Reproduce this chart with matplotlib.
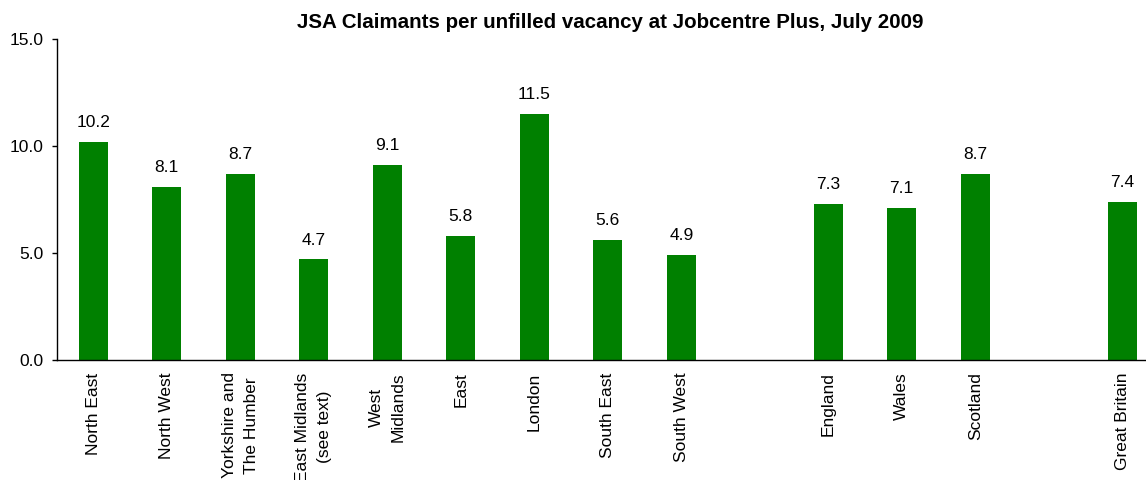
import matplotlib
matplotlib.use("Agg")
import matplotlib.pyplot as plt

categories = ["North East", "North West", "Yorkshire and\nThe Humber", "East Midlands\n(see text)",
              "West\nMidlands", "East", "London", "South East", "South West", "",
              "England", "Wales", "Scotland", "", "Great Britain"]
values = [10.2, 8.1, 8.7, 4.7, 9.1, 5.8, 11.5, 5.6, 4.9, None, 7.3, 7.1, 8.7, None, 7.4]
yticks = [0.0, 5.0, 10.0, 15.0]
title = "JSA Claimants per unfilled vacancy at Jobcentre Plus, July 2009"

plt.rcParams['font.family'] = ['Liberation Sans', 'DejaVu Sans']

fig = plt.figure(figsize=(11.46, 4.8), dpi=100)
ax = fig.add_axes([56.5 / 1146, 120 / 480, 1102.5 / 1146, 321 / 480])

xs = [i for i, v in enumerate(values) if v is not None]
vs = [v for v in values if v is not None]
ax.bar(xs, vs, width=0.4, color="#008000", zorder=2)
for x, v in zip(xs, vs):
    ax.annotate(f"{v:.1f}", (x, v), xytext=(0, 8.5), textcoords="offset points",
                ha="center", va="bottom", fontsize=12.5)

ax.set_xlim(-0.5, len(values) - 0.5)
ax.set_ylim(0, 15)
ax.set_yticks(yticks)
ax.set_yticklabels([f"{t:.1f}" for t in yticks], fontsize=12.5)
ax.tick_params(axis="y", direction="out", length=3.5, width=1, pad=6)
ax.set_xticks(range(len(categories)))
ax.set_xticklabels(categories, rotation=90, fontsize=12.5, ha="center", va="top")
for lbl in ax.get_xticklabels():
    lbl.set_linespacing(1.6)
ax.tick_params(axis="x", length=0, pad=9)
for s in ["top", "right"]:
    ax.spines[s].set_visible(False)
ax.spines["left"].set_linewidth(1)
ax.spines["bottom"].set_linewidth(1)

fig.text(610 / 1146, 1 - 22 / 480, title, ha="center", va="center",
         fontsize=14.8, fontweight="bold")

fig.savefig("out.png", dpi=100)
